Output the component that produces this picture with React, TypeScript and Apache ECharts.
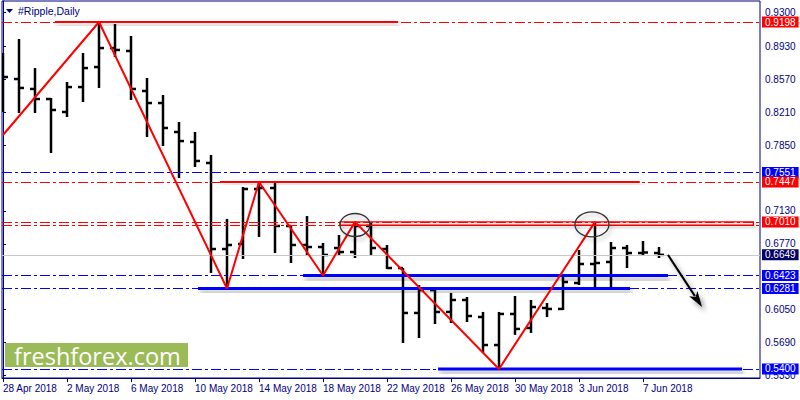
import React, { useEffect, useRef } from "react";
import * as echarts from "echarts";

// ---- data ----
const dateLabels = ["28 Apr 2018", "2 May 2018", "6 May 2018", "10 May 2018", "14 May 2018", "18 May 2018", "22 May 2018", "26 May 2018", "30 May 2018", "3 Jun 2018", "7 Jun 2018"];
const dateLabelIdx = [0, 4, 8, 12, 16, 20, 24, 28, 32, 36, 40];

const opens = [0.8673, 0.8574, 0.8465, 0.8355, 0.8213, 0.8486, 0.8705, 0.8913, 0.8881, 0.8443, 0.8311, 0.7994, 0.7885, 0.7655, 0.6713, 0.6768, 0.7370, 0.7381, 0.6965, 0.6757, 0.6735, 0.6724, 0.6680, 0.6965, 0.6713, 0.6505, 0.6013, 0.6264, 0.6024, 0.6155, 0.5969, 0.5662, 0.6002, 0.5849, 0.6067, 0.6057, 0.6341, 0.6549, 0.6571, 0.6724, 0.6669, 0.6669];
const highs = [0.8859, 0.9012, 0.8694, 0.8366, 0.8541, 0.8859, 0.9198, 0.9176, 0.9045, 0.8585, 0.8399, 0.8103, 0.7994, 0.7742, 0.7042, 0.7392, 0.7447, 0.7447, 0.6976, 0.7074, 0.6779, 0.6866, 0.7010, 0.6998, 0.6757, 0.6505, 0.6319, 0.6297, 0.6232, 0.6188, 0.6024, 0.6024, 0.6199, 0.6155, 0.6122, 0.6440, 0.6702, 0.7010, 0.6790, 0.6757, 0.6801, 0.6735];
const lows = [0.8213, 0.8202, 0.8202, 0.7764, 0.8158, 0.8322, 0.8476, 0.8815, 0.8344, 0.7939, 0.7841, 0.7490, 0.7611, 0.6451, 0.6281, 0.6604, 0.6845, 0.6669, 0.6560, 0.6648, 0.6423, 0.6648, 0.6615, 0.6648, 0.6494, 0.5684, 0.5739, 0.5892, 0.5903, 0.5914, 0.5575, 0.5400, 0.5773, 0.5794, 0.5969, 0.6046, 0.6319, 0.6285, 0.6285, 0.6505, 0.6637, 0.6615];
const closes = [0.8596, 0.8476, 0.8355, 0.8235, 0.8486, 0.8694, 0.8913, 0.8892, 0.8465, 0.8311, 0.8038, 0.7895, 0.7677, 0.6713, 0.6757, 0.7370, 0.7381, 0.6965, 0.6757, 0.6735, 0.6648, 0.6680, 0.6965, 0.6724, 0.6505, 0.6013, 0.6264, 0.6024, 0.6155, 0.5980, 0.5662, 0.6002, 0.5838, 0.6078, 0.6057, 0.6352, 0.6549, 0.6560, 0.6724, 0.6669, 0.6675, 0.6649];

const zigzag = [[0, 0.7961], [6, 0.9198], [14, 0.6281], [16, 0.7447], [20, 0.6423], [22, 0.7010], [31, 0.5400], [37, 0.7010]];

const yTickValues = [0.93, 0.893, 0.857, 0.821, 0.785, 0.713, 0.677, 0.605, 0.569, 0.533];

const levelValues = [0.9198, 0.7551, 0.7447, 0.7010, 0.6973, 0.6423, 0.6281, 0.5400];
const levelColors = ["#ff0000", "#0000ff", "#ff0000", "#ff0000", "#ff0000", "#0000ff", "#0000ff", "#0000ff"];
const levelLabeled = [true, true, true, true, false, true, true, true];
const lastPrice = 0.6649;

const segFrom = [3.25, 13.56, 18.75, 12.19, 27.19];
const segTo = [24.7, 39.8, 41.56, 39.19, 46.19];
const segValue = [0.9198, 0.7447, 0.6423, 0.6281, 0.5400];
const segColor = ["#ff0000", "#ff0000", "#0000ff", "#0000ff", "#0000ff"];
const segWidth = [2, 2, 3, 3, 3];

const boxRange = [21.06, 46.9, 0.7010, 0.6973];
const ellipseCenters = [[22, 0.6976], [36.81, 0.6982]];
const arrowPts = [41.56, 0.6649, 43.69, 0.6078];

const NAVY = "#000080";
const FONT = "Liberation Sans";

const App: React.FC = () => {
  const ref = useRef<HTMLDivElement>(null);
  useEffect(() => {
    if (!ref.current) return;
    const chart = echarts.init(ref.current, undefined, { renderer: "svg" });
    const ohlc = opens.map((o, i) => [i, o, highs[i], lows[i], closes[i]]);
    const shadow = { shadowBlur: 4, shadowColor: "rgba(0,0,0,0.35)", shadowOffsetX: 2, shadowOffsetY: 4 };

    const levelData: any[] = levelValues.map((v, i) => ({
      yAxis: v,
      lineStyle: { color: levelColors[i], type: [10, 3, 3, 3], width: 1 },
      label: levelLabeled[i]
        ? { show: true, backgroundColor: levelColors[i] }
        : { show: false },
    }));
    levelData.push({
      yAxis: lastPrice,
      lineStyle: { color: "#c8c8c8", type: "solid", width: 1 },
      label: { show: true, backgroundColor: "#000060" },
    });

    chart.setOption({
      animation: false,
      backgroundColor: "#ffffff",
      grid: { left: 2, right: 40, top: 1, bottom: 22, show: true, borderColor: NAVY, borderWidth: 1, backgroundColor: "#fff" },
      xAxis: {
        type: "value",
        min: -0.0625,
        max: 47.3125,
        splitLine: { show: false },
        axisLine: { show: true, lineStyle: { color: NAVY, width: 1 } },
        axisTick: { show: true, customValues: dateLabelIdx, length: 4, lineStyle: { color: NAVY } },
        axisLabel: {
          customValues: dateLabelIdx,
          formatter: (v: number) => dateLabels[dateLabelIdx.indexOf(Math.round(v))] ?? "",
          align: "left",
          margin: 5,
          color: NAVY,
          fontSize: 10,
          fontFamily: FONT,
        },
      },
      yAxis: {
        type: "value",
        position: "right",
        min: 0.5301,
        max: 0.9428,
        splitLine: { show: false },
        axisLine: { show: true, lineStyle: { color: NAVY, width: 1 } },
        axisTick: { show: true, customValues: yTickValues, length: 3, lineStyle: { color: NAVY } },
        axisLabel: {
          customValues: yTickValues,
          formatter: (v: number) => v.toFixed(4),
          margin: 5,
          color: NAVY,
          fontSize: 10,
          fontFamily: FONT,
        },
      },
      graphic: [
        { type: "polygon", shape: { points: [[6, 9], [13, 9], [9.5, 13]] }, style: { fill: NAVY } },
        { type: "text", x: 18, y: 11, style: { text: "#Ripple,Daily", fill: NAVY, fontSize: 10.5, fontFamily: FONT, verticalAlign: "middle" } },
        { type: "rect", shape: { x: 5, y: 343, width: 183, height: 24 }, style: { fill: "#9bbb59" }, z: 50 },
        { type: "text", x: 14, y: 356, style: { text: "freshforex.com", fill: "#ffffff", fontSize: 23.5, fontFamily: "Open Sans", verticalAlign: "middle" }, z: 51 },
      ],
      series: [
        {
          type: "line",
          data: [[0, lastPrice]],
          showSymbol: false,
          z: 1,
          markLine: {
            silent: true,
            precision: 4,
            symbol: ["none", "none"],
            label: {
              position: "end",
              distance: 2,
              color: "#ffffff",
              fontSize: 10,
              fontFamily: FONT,
              padding: [1, 3, 0, 3],
              formatter: (p: any) => Number(p.value).toFixed(4),
            },
            data: levelData,
          },
        },
        {
          type: "custom",
          z: 3,
          clip: true,
          data: ohlc,
          encode: { x: 0, y: [1, 2, 3, 4] },
          renderItem: (params: any, api: any) => {
            const i = api.value(0);
            const o = api.coord([i, api.value(1)]);
            const h = api.coord([i, api.value(2)]);
            const l = api.coord([i, api.value(3)]);
            const c = api.coord([i, api.value(4)]);
            const st = { stroke: "#000", lineWidth: 2.5 };
            return {
              type: "group",
              children: [
                { type: "line", shape: { x1: h[0], y1: h[1], x2: l[0], y2: l[1] }, style: st },
                { type: "line", shape: { x1: o[0] - 5, y1: o[1], x2: o[0], y2: o[1] }, style: st },
                { type: "line", shape: { x1: c[0], y1: c[1], x2: c[0] + 5, y2: c[1] }, style: st },
              ],
            };
          },
        },
        {
          type: "custom",
          z: 4,
          clip: true,
          data: segValue.map((v, i) => [segFrom[i], segTo[i], v, i]),
          encode: { x: [0, 1], y: 2 },
          renderItem: (params: any, api: any) => {
            const k = params.dataIndex;
            const a = api.coord([api.value(0), api.value(2)]);
            const b = api.coord([api.value(1), api.value(2)]);
            const w = segWidth[k];
            return {
              type: "rect",
              shape: { x: a[0], y: a[1] - w / 2, width: b[0] - a[0], height: w },
              style: { fill: segColor[k], ...shadow },
            };
          },
        },
        {
          type: "custom",
          z: 4,
          clip: true,
          data: [boxRange],
          encode: { x: [0, 1], y: [2, 3] },
          renderItem: (params: any, api: any) => {
            const a = api.coord([api.value(0), api.value(2)]);
            const b = api.coord([api.value(1), api.value(3)]);
            return {
              type: "rect",
              shape: { x: a[0], y: a[1], width: b[0] - a[0], height: b[1] - a[1] },
              style: { fill: "none", stroke: "#ff0000", lineWidth: 1.3, shadowBlur: 3, shadowColor: "rgba(0,0,0,0.2)", shadowOffsetX: 2, shadowOffsetY: 3 },
            };
          },
        },
        {
          type: "line",
          z: 5,
          data: zigzag,
          showSymbol: false,
          lineStyle: { color: "#ff0000", width: 2 },
        },
        {
          type: "custom",
          z: 6,
          data: ellipseCenters,
          encode: { x: 0, y: 1 },
          renderItem: (params: any, api: any) => {
            const p = api.coord([api.value(0), api.value(1)]);
            const rx = params.dataIndex === 0 ? 15 : 17;
            const ry = params.dataIndex === 0 ? 11.5 : 12.5;
            return {
              type: "ellipse",
              shape: { cx: p[0], cy: p[1], rx, ry },
              style: { fill: "none", stroke: "#333", lineWidth: 1.3, shadowBlur: 4, shadowColor: "rgba(0,0,0,0.3)", shadowOffsetX: 2, shadowOffsetY: 3 },
            };
          },
        },
        {
          type: "custom",
          z: 6,
          data: [arrowPts],
          encode: { x: [0, 2], y: [1, 3] },
          renderItem: (params: any, api: any) => {
            const p1 = api.coord([api.value(0), api.value(1)]);
            const p2 = api.coord([api.value(2), api.value(3)]);
            const dx = p2[0] - p1[0];
            const dy = p2[1] - p1[1];
            const len = Math.sqrt(dx * dx + dy * dy);
            const ux = dx / len, uy = dy / len;
            const hl = 16, hw = 5;
            const bx = p2[0] - ux * hl, by = p2[1] - uy * hl;
            const st = { shadowBlur: 5, shadowColor: "rgba(0,0,0,0.4)", shadowOffsetX: 3, shadowOffsetY: 4 };
            return {
              type: "group",
              children: [
                { type: "line", shape: { x1: p1[0], y1: p1[1], x2: bx + ux * 3, y2: by + uy * 3 }, style: { stroke: "#000", lineWidth: 2, ...st } },
                {
                  type: "polygon",
                  shape: { points: [[p2[0], p2[1]], [bx - uy * hw, by + ux * hw], [bx + ux * 4, by + uy * 4], [bx + uy * hw, by - ux * hw]] },
                  style: { fill: "#000", ...st },
                },
              ],
            };
          },
        },
      ],
    });
    return () => chart.dispose();
  }, []);
  return <div ref={ref} style={{ position: "fixed", left: 0, top: 0, width: 800, height: 400 }} />;
};

export default App;
